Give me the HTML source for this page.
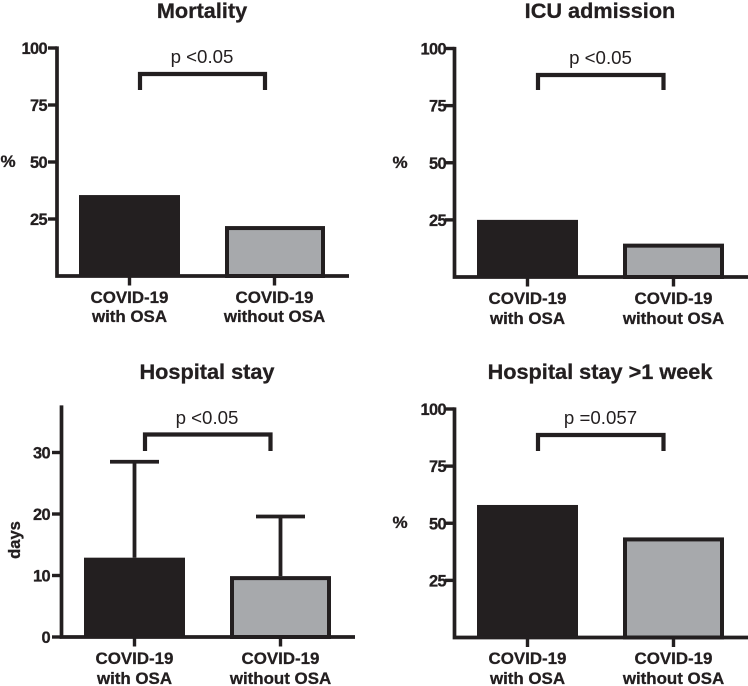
<!DOCTYPE html>
<html lang="en">
<head>
<meta charset="utf-8">
<title>COVID-19 outcomes with and without OSA</title>
<style>
html,body{margin:0;padding:0;background:#fff;width:748px;height:686px;overflow:hidden}
svg{display:block;position:absolute;left:0;top:0}
text{font-family:"Liberation Sans",Arial,sans-serif;fill:#231f20}
.b{font-weight:700;stroke:#231f20;stroke-width:0.3px}
</style>
</head>
<body>
<svg id="figure" width="748" height="686" viewBox="0 0 748 686" xmlns="http://www.w3.org/2000/svg"></svg>
<script>
// ---- chart data ----
const categories = [["COVID-19", "with OSA"], ["COVID-19", "without OSA"]];
const percentTicks = [25, 50, 75, 100];
const daysTicks = [0, 10, 20, 30];
const mortalityValues = [35.5, 21.9];
const icuValues = [25, 14.6];
const stayValues = [12.9, 9.9];
const stayErrorTops = [28.5, 19.6];
const weekValues = [58, 43.8];
const pLabels = ["p <0.05", "p <0.05", "p <0.05", "p =0.057"];
const titles = ["Mortality", "ICU admission", "Hospital stay", "Hospital stay >1 week"];

// ---- layout ----
const DARK = "#231f20", GRAY = "#a7a9ac";
const panels = [
  {key:"mortality", title:titles[0], p:pLabels[0], values:mortalityValues, ticks:percentTicks, max:100, unit:"%",
   axisX:57, top:48, base:276, right:349, tickL:48, labelR:47, bars:[79,225], barW:[101,100], cx:[129.5,274.5],
   brX:[140,265], brY:[74,90], pX:202, pY:63, titleX:202, titleY:18, labY:[303,322], unitX:8, unitY:167},
  {key:"icu", title:titles[1], p:pLabels[1], values:icuValues, ticks:percentTicks, max:100, unit:"%",
   axisX:454.5, top:48.5, base:277, right:748, tickL:445, labelR:446, bars:[477,623], barW:[101,101], cx:[527.5,673.5],
   brX:[538,663.5], brY:[75,90], pX:600.5, pY:64, titleX:600, titleY:18, labY:[304,324], unitX:400, unitY:168},
  {key:"stay", title:titles[2], p:pLabels[2], values:stayValues, errors:stayErrorTops, ticks:daysTicks, max:37.4, unit:"days",
   axisX:61.5, top:407, base:637, right:355, tickL:52, labelR:50, bars:[84,230], barW:[101,101], cx:[134.5,280.5],
   brX:[145,270.5], brY:[434.5,451], pX:207, pY:424, titleX:207, titleY:379, labY:[664,684], unitX:20, unitY:540},
  {key:"week", title:titles[3], p:pLabels[3], values:weekValues, ticks:percentTicks, max:100, unit:"%",
   axisX:454.5, top:409, base:637.5, right:748, tickL:445, labelR:446, bars:[477,623], barW:[101,101], cx:[527.5,673.5],
   brX:[538,663.5], brY:[435,451], pX:600.5, pY:424, titleX:600, titleY:379, labY:[664,684], unitX:400, unitY:528}
];

const NS = "http://www.w3.org/2000/svg";
const svg = document.getElementById("figure");

function make(parent, tag, attrs, txt) {
  const el = document.createElementNS(NS, tag);
  for (const k in attrs) el.setAttribute(k, attrs[k]);
  if (txt !== undefined) el.textContent = txt;
  parent.appendChild(el);
  return el;
}

panels.forEach(function (P) {
  const y = function (v) { return P.base - (v / P.max) * (P.base - P.top); };

  const g = make(svg, "g", {});
  
  

  const title = make(g, "text", {x:P.titleX, y:P.titleY, "text-anchor":"middle", "class":"b", "font-size":"21.7"}, P.title);
  
  

  // bars
  P.values.forEach(function (v, i) {
    const top = y(v);
    const x = P.bars[i], w = P.barW[i];
    let bar;
    if (i === 0) {
      bar = make(g, "rect", {x:x, y:top, width:w, height:P.base - top, fill:DARK});
    } else {
      bar = make(g, "rect", {x:x + 2, y:top + 2, width:w - 4, height:P.base - top - 2, fill:GRAY, stroke:DARK, "stroke-width":4});
    }
    
    

    if (P.errors) {
      const eTop = y(P.errors[i]);
      const err = make(g, "path", {
        d:"M" + P.cx[i] + " " + top + "V" + eTop + "M" + (P.cx[i] - 24.5) + " " + eTop + "H" + (P.cx[i] + 24.5),
        fill:"none", stroke:DARK, "stroke-width":3.8
      });
      
      
    }

    const xt = make(g, "line", {x1:P.cx[i], x2:P.cx[i], y1:P.base, y2:P.base + 9.5, stroke:DARK, "stroke-width":3.4});
    
    

    categories[i].forEach(function (line, j) {
      const lab = make(g, "text", {x:P.cx[i], y:P.labY[j], "text-anchor":"middle", "class":"b", "font-size":"16.9"}, line);
      
      
    });
  });

  // y ticks
  P.ticks.forEach(function (t) {
    const ty = y(t);
    const tk = make(g, "line", {x1:P.tickL, x2:P.axisX, y1:ty, y2:ty, stroke:DARK, "stroke-width":3.4});
    
    
    const lab = make(g, "text", {x:P.labelR, y:ty + 6, "text-anchor":"end", "class":"b", "font-size":"16.4", "letter-spacing":"-0.6"}, String(t));
    
    
  });

  // axes
  const ax = make(g, "path", {
    d:"M" + P.axisX + " " + (P.top - 1.6) + "V" + P.base + "H" + P.right,
    fill:"none", stroke:DARK, "stroke-width":3.7
  });
  
  

  // unit label
  let unit;
  if (P.unit === "days") {
    unit = make(g, "text", {x:0, y:0, "text-anchor":"middle", "class":"b", "font-size":"16.6",
      transform:"translate(" + P.unitX + " " + P.unitY + ") rotate(-90)"}, P.unit);
  } else {
    unit = make(g, "text", {x:P.unitX, y:P.unitY, "text-anchor":"middle", "class":"b", "font-size":"17"}, P.unit);
  }
  
  

  // significance bracket
  const br = make(g, "path", {
    d:"M" + P.brX[0] + " " + P.brY[1] + "V" + P.brY[0] + "H" + P.brX[1] + "V" + P.brY[1],
    fill:"none", stroke:DARK, "stroke-width":4.2
  });
  
  

  const pt = make(g, "text", {x:P.pX, y:P.pY, "text-anchor":"middle", "font-size":"18.7"}, P.p);
  
  
});
</script>
</body>
</html>
